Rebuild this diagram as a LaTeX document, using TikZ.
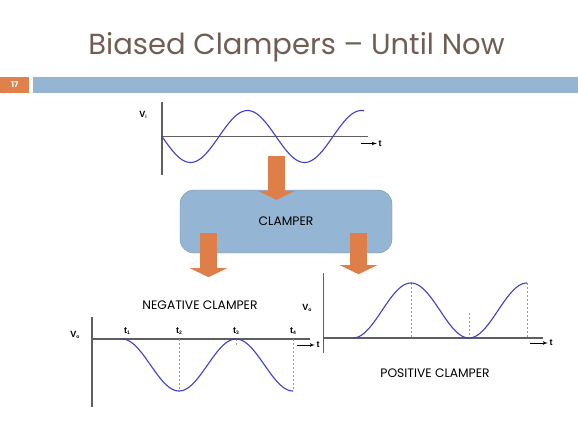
\documentclass[tikz,border=0pt]{standalone}
\usepackage{fontspec}
\setmainfont{Poppins}
\newfontfamily\plotfont{Liberation Sans}
\usetikzlibrary{arrows,arrows.meta,positioning}

\definecolor{titlebrown}{RGB}{112,94,84}
\definecolor{barblue}{RGB}{148,182,210}
\definecolor{barorange}{RGB}{224,128,74}
\definecolor{boxblue}{RGB}{149,181,212}
\definecolor{boxedge}{RGB}{120,142,165}
\definecolor{waveblue}{RGB}{62,62,200}
\definecolor{axisgray}{RGB}{95,95,95}
\definecolor{arroworange}{RGB}{222,126,72}

% signal label with a tiny subscript
\newcommand{\sig}[2]{{\plotfont\bfseries #1\raisebox{-0.3ex}{\fontsize{5}{5}\selectfont #2}}}

\begin{document}
\begin{tikzpicture}[x=1pt, y=-1pt]
    % Define the styles
    \tikzstyle{axis} = [draw=axisgray, line width=1.1pt]
    \tikzstyle{wave} = [draw=waveblue, line width=1.1pt]
    \tikzstyle{guide} = [draw=gray!80, line width=0.5pt, dash pattern=on 2pt off 2pt]
    \tikzstyle{taxis} = [draw=black, line width=0.7pt, -latex']
    \tikzstyle{lbl} = [font=\plotfont\bfseries\fontsize{9}{10}\selectfont, inner sep=1.5pt]
    \tikzstyle{caption} = [font=\fontsize{12.3}{14}\selectfont, inner sep=0pt]
    \tikzstyle{flow} = [draw=arroworange, line width=17pt, -{Triangle[width=37pt, length=9pt]}]

    \useasboundingbox (0,0) rectangle (578,433);

    % Title and slide bar
    \node [font=\fontsize{29}{34}\selectfont, text=titlebrown, anchor=base] (title) at (296.5,55) {Biased Clampers – Until Now};
    \node [fill=barorange, text=white, font=\bfseries\fontsize{8}{9}\selectfont, minimum width=29pt, minimum height=15.5pt, inner sep=0pt, anchor=north west] (slidenum) at (0,77) {17};
    \node [fill=barblue, minimum width=545pt, minimum height=15.5pt, inner sep=0pt, anchor=north west] (slidebar) at (33,77) {};

    % Input signal
    \coordinate (vio) at (162,136.5);
    \draw [axis] (162,102) -- (162,175);
    \draw [axis] (vio) -- (368,136.5);
    \draw [wave] plot [domain=162:364, samples=120] (\x, {136.5+26*sin(3.158*(\x-162))});
    \node [lbl] (vi) at (143,115) {\sig{V}{i}};
    \node [lbl] (tin) at (380,143.5) {t};
    \coordinate [left=16pt of tin] (tinstart);
    \draw [taxis] (tinstart) -- (tin.west);

    % Clamper block
    \node [draw=boxedge, fill=boxblue, rounded corners=14pt, minimum width=212pt, minimum height=63pt, caption] (clamper) at (286,221.5) {CLAMPER};
    \coordinate (inflow) at (276.5,156);
    \draw [flow] (inflow) -- ([yshift=-10pt]clamper.north -| inflow);
    \coordinate (negflow) at (208.5,233);
    \coordinate (posflow) at (358.5,233);
    \draw [flow] (negflow) -- ([yshift=-24pt]clamper.south -| negflow);
    \draw [flow] (posflow) -- ([yshift=-21pt]clamper.south -| posflow);

    % Negative clamper output
    \node [caption] (negcap) at (200,305) {NEGATIVE CLAMPER};
    \coordinate (nego) at (92,339);
    \draw [axis] (92,317) -- (92,407);
    \draw [axis] (nego) -- (310,339);
    \draw [guide] (179,339) -- (179,391);
    \draw [guide] (236,339) -- (236,346);
    \draw [guide] (293,339) -- (293,391);
    \draw [wave] plot [domain=122:293, samples=120] (\x, {339+26*(1-cos(3.158*(\x-122)))});
    \node [lbl] (voneg) at (75,335) {\sig{V}{o}};
    \foreach \tx/\tn in {127/1, 179/2, 236/3, 293/4}
        \node [lbl] (tneg\tn) at (\tx,331) {\sig{t}{\tn}};
    \node [lbl] (tneg) at (318,345) {t};
    \coordinate [left=18pt of tneg] (tnegstart);
    \draw [taxis] (tnegstart) -- (tneg.west);

    % Positive clamper output
    \node [caption] (poscap) at (435,373) {POSITIVE CLAMPER};
    \coordinate (poso) at (323.5,338);
    \draw [axis] (323.5,273) -- (323.5,353);
    \draw [axis] (poso) -- (543,338);
    \draw [guide] (411,283) -- (411,338);
    \draw [guide] (469,313) -- (469,338);
    \draw [guide] (527,283) -- (527,338);
    \draw [wave] plot [domain=353:527, samples=120] (\x, {338-27.5*(1-cos(3.1034*(\x-353)))});
    \node [lbl] (vopos) at (307,308) {\sig{V}{o}};
    \node [lbl] (tpos) at (551,343) {t};
    \coordinate [left=18pt of tpos] (tposstart);
    \draw [taxis] (tposstart) -- (tpos.west);

\end{tikzpicture}
\end{document}
